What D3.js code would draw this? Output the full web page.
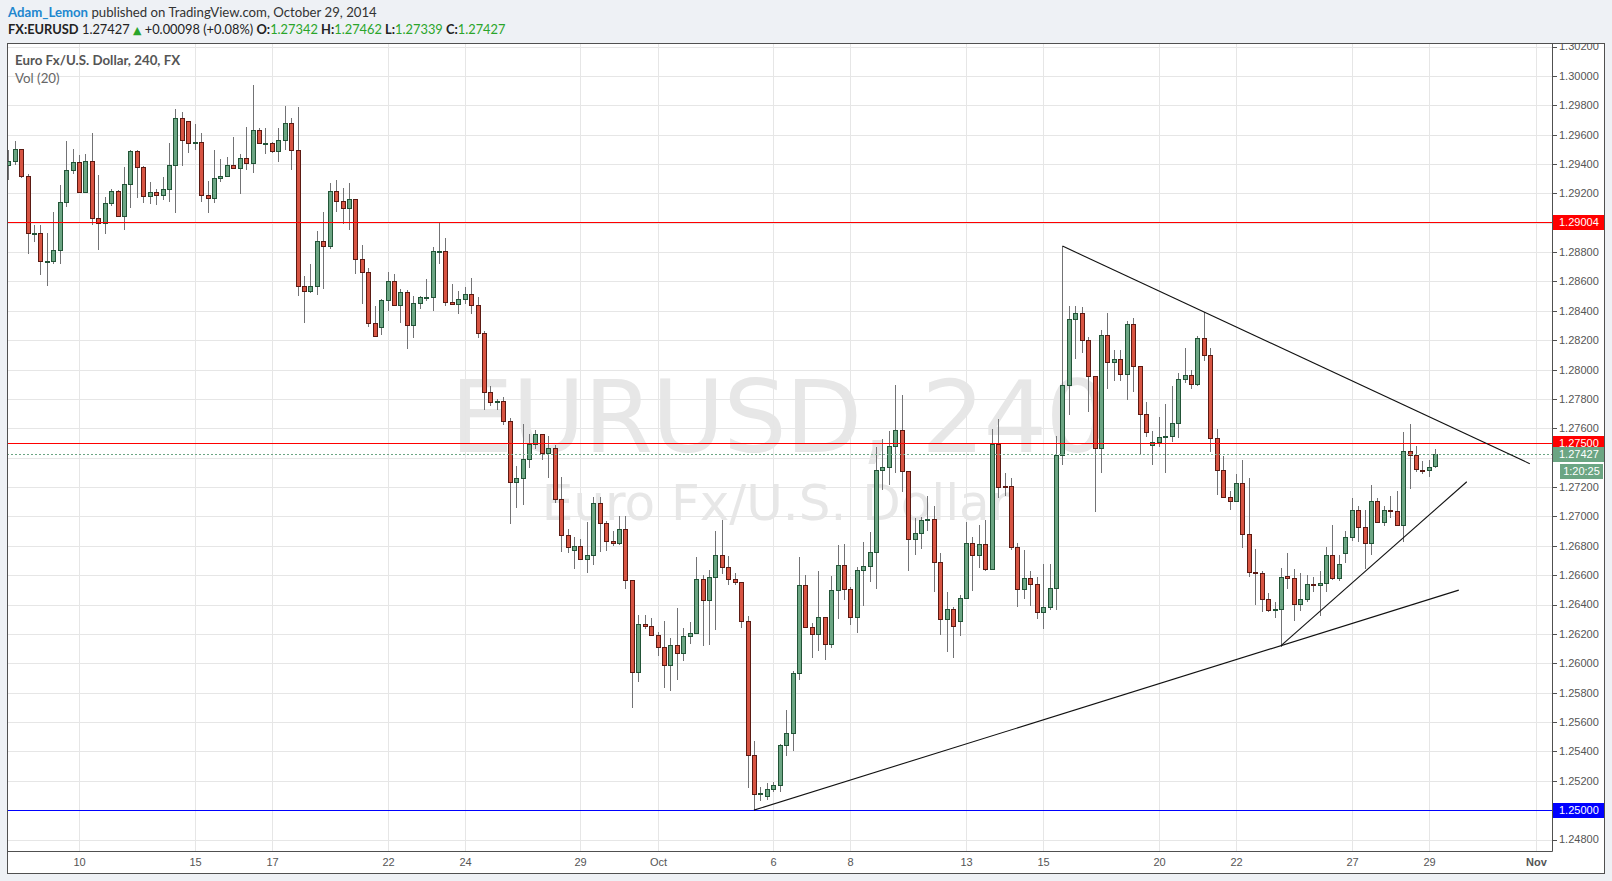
<!DOCTYPE html>
<html><head><meta charset="utf-8">
<script src="https://cdn.jsdelivr.net/npm/d3@7"></script>
<style>
html,body{margin:0;padding:0;background:#eef1f5;}
svg{display:block;}
</style></head><body>
<svg id="chart" width="1612" height="881"></svg>
<script>
// ---- DATA (EURUSD 240 min, Sep 8 - Oct 29 2014) ----
const opens = [1.29390,1.29417,1.29499,1.29320,1.28928,1.28928,1.28738,1.28738,1.28813,1.29139,
1.29356,1.29411,1.29207,1.29417,1.29030,1.28996,1.29132,1.29213,1.29044,1.29261,
1.29485,1.29377,1.29180,1.29207,1.29186,1.29227,1.29390,1.29716,1.29696,1.29540,
1.29553,1.29186,1.29166,1.29302,1.29315,1.29390,1.29370,1.29438,1.29404,1.29628,
1.29540,1.29540,1.29485,1.29560,1.29682,1.29492,1.28568,1.28534,1.28566,1.28875,
1.28841,1.29216,1.29148,1.29100,1.29162,1.28753,1.28664,1.28316,1.28289,1.28473,
1.28603,1.28439,1.28528,1.28303,1.28453,1.28494,1.28494,1.28807,1.28807,1.28459,
1.28446,1.28480,1.28514,1.28439,1.28248,1.27846,1.27784,1.27784,1.27648,1.27232,
1.27259,1.27389,1.27493,1.27559,1.27430,1.27464,1.27116,1.26871,1.26769,1.26797,
1.26708,1.26735,1.27089,1.26953,1.26831,1.26817,1.26912,1.26565,1.25938,1.26265,
1.26252,1.26190,1.26109,1.25986,1.26122,1.26068,1.26184,1.26204,1.26572,1.26429,
1.26585,1.26735,1.26653,1.26572,1.26551,1.26286,1.25373,1.25114,1.25099,1.25142,
1.25169,1.25441,1.25523,1.25932,1.26531,1.26245,1.26197,1.26314,1.26130,1.26498,
1.26668,1.26504,1.26314,1.26634,1.26661,1.26756,1.27315,1.27335,1.27478,1.27587,
1.27308,1.26845,1.26886,1.26981,1.26981,1.26688,1.26300,1.26368,1.26287,1.26443,
1.26818,1.26736,1.26811,1.26641,1.27494,1.27204,1.27204,1.26791,1.26504,1.26579,
1.26539,1.26348,1.26382,1.26513,1.27417,1.27896,1.28347,1.28388,1.28204,1.27958,
1.27465,1.28238,1.28053,1.28074,1.27971,1.28313,1.28026,1.27698,1.27486,1.27506,
1.27540,1.27547,1.27633,1.27937,1.27964,1.27903,1.28217,1.28101,1.27533,1.27313,
1.27130,1.27103,1.27226,1.26877,1.26624,1.26617,1.26439,1.26364,1.26371,1.26593,
1.26580,1.26403,1.26437,1.26539,1.26532,1.26546,1.26736,1.26580,1.26750,1.26859,
1.27042,1.26927,1.26818,1.27104,1.26961,1.27042,1.27036,1.26940,1.27444,1.27417,
1.27317,1.27315,1.27342];
const highs = [1.29494,1.29556,1.29499,1.29331,1.28985,1.28985,1.28928,1.29073,1.29256,1.29556,
1.29499,1.29460,1.29467,1.29610,1.29324,1.29175,1.29229,1.29223,1.29377,1.29494,
1.29494,1.29383,1.29277,1.29227,1.29309,1.29542,1.29773,1.29757,1.29696,1.29671,
1.29610,1.29284,1.29494,1.29433,1.29447,1.29583,1.29467,1.29651,1.29938,1.29642,
1.29642,1.29549,1.29644,1.29793,1.29710,1.29787,1.28638,1.28721,1.28946,1.29073,
1.29273,1.29294,1.29237,1.29273,1.29162,1.28850,1.28694,1.28434,1.28480,1.28664,
1.28650,1.28550,1.28544,1.28498,1.28500,1.28619,1.28835,1.29005,1.28896,1.28584,
1.28534,1.28562,1.28625,1.28496,1.28262,1.27887,1.27798,1.27812,1.27668,1.27343,
1.27628,1.27562,1.27587,1.27559,1.27546,1.27487,1.27269,1.26912,1.26860,1.26844,
1.26962,1.27130,1.27130,1.26967,1.26899,1.27001,1.27001,1.26565,1.26327,1.26327,
1.26306,1.26213,1.26288,1.26172,1.26374,1.26238,1.26279,1.26722,1.26599,1.26633,
1.26899,1.26974,1.26728,1.26613,1.26551,1.26320,1.25469,1.25155,1.25183,1.25189,
1.25448,1.25680,1.25945,1.26722,1.26599,1.26272,1.26626,1.26314,1.26595,1.26806,
1.26813,1.26518,1.26654,1.26827,1.26895,1.27474,1.27526,1.27580,1.27894,1.27826,
1.27308,1.26990,1.26995,1.27138,1.27070,1.26750,1.26484,1.26384,1.26463,1.26961,
1.26859,1.26940,1.26977,1.27594,1.27662,1.27294,1.27260,1.26818,1.26772,1.26627,
1.26586,1.26675,1.26675,1.27549,1.28841,1.28436,1.28436,1.28429,1.28224,1.27958,
1.28272,1.28382,1.28135,1.28135,1.28334,1.28354,1.28026,1.27780,1.27581,1.27677,
1.27766,1.27890,1.27978,1.28149,1.27999,1.28231,1.28395,1.28149,1.27595,1.27410,
1.27171,1.27287,1.27383,1.27260,1.26781,1.26631,1.26480,1.26418,1.26651,1.26750,
1.26641,1.26614,1.26602,1.26586,1.26627,1.26791,1.26940,1.26736,1.26899,1.27124,
1.27070,1.27042,1.27212,1.27124,1.27070,1.27138,1.27172,1.27573,1.27628,1.27478,
1.27376,1.27383,1.27462];
const lows = [1.29300,1.29399,1.29313,1.28797,1.28878,1.28654,1.28579,1.28729,1.28724,1.29116,
1.29336,1.29207,1.29207,1.28989,1.28824,1.28933,1.29121,1.29044,1.28960,1.29105,
1.29177,1.29139,1.29136,1.29130,1.29164,1.29150,1.29075,1.29395,1.29483,1.29503,
1.29146,1.29071,1.29141,1.29286,1.29315,1.29370,1.29204,1.29368,1.29343,1.29540,
1.29478,1.29481,1.29417,1.29503,1.29363,1.28507,1.28325,1.28525,1.28516,1.28553,
1.28825,1.29078,1.28998,1.28955,1.28655,1.28450,1.28294,1.28228,1.28239,1.28409,
1.28439,1.28321,1.28150,1.28225,1.28419,1.28473,1.28409,1.28723,1.28439,1.28446,
1.28382,1.28453,1.28382,1.28219,1.27730,1.27762,1.27730,1.27628,1.26952,1.27062,
1.27082,1.27334,1.27464,1.27389,1.27266,1.27096,1.26767,1.26756,1.26651,1.26708,
1.26624,1.26678,1.26767,1.26769,1.26803,1.26810,1.26515,1.25700,1.25882,1.26238,
1.26190,1.26059,1.25841,1.25820,1.25891,1.26020,1.26136,1.26204,1.26122,1.26134,
1.26236,1.26613,1.26538,1.26538,1.26249,1.25160,1.25000,1.25067,1.25078,1.25133,
1.25128,1.25373,1.25412,1.25891,1.26245,1.26041,1.26090,1.26028,1.26110,1.26305,
1.26441,1.26266,1.26212,1.26396,1.26561,1.26513,1.27185,1.27219,1.27301,1.27176,
1.26632,1.26743,1.26784,1.26909,1.26491,1.26198,1.26082,1.26041,1.26191,1.26443,
1.26498,1.26654,1.26634,1.26641,1.27131,1.27145,1.26777,1.26389,1.26443,1.26396,
1.26305,1.26239,1.26368,1.26368,1.27360,1.27698,1.28076,1.28122,1.27718,1.27039,
1.27305,1.27875,1.27930,1.27930,1.27800,1.27855,1.27424,1.27547,1.27356,1.27479,
1.27301,1.27513,1.27540,1.27916,1.27875,1.27896,1.28067,1.27444,1.27150,1.27130,
1.27048,1.27103,1.26795,1.26596,1.26405,1.26357,1.26357,1.26316,1.26120,1.26512,
1.26292,1.26360,1.26421,1.26489,1.26332,1.26490,1.26575,1.26570,1.26693,1.26840,
1.26831,1.26648,1.26743,1.26961,1.26940,1.26995,1.26940,1.26831,1.27192,1.27308,
1.27294,1.27274,1.27339];
const closes = [1.29417,1.29499,1.29320,1.28928,1.28930,1.28738,1.28740,1.28813,1.29139,1.29356,
1.29411,1.29207,1.29417,1.29030,1.28996,1.29132,1.29213,1.29044,1.29261,1.29485,
1.29377,1.29180,1.29207,1.29186,1.29227,1.29390,1.29716,1.29560,1.29540,1.29553,
1.29186,1.29166,1.29302,1.29315,1.29390,1.29370,1.29438,1.29404,1.29628,1.29540,
1.29542,1.29485,1.29560,1.29682,1.29492,1.28568,1.28534,1.28566,1.28875,1.28841,
1.29216,1.29148,1.29100,1.29162,1.28753,1.28664,1.28316,1.28228,1.28473,1.28603,
1.28439,1.28528,1.28303,1.28453,1.28494,1.28496,1.28807,1.28809,1.28459,1.28446,
1.28480,1.28514,1.28439,1.28248,1.27846,1.27778,1.27786,1.27648,1.27232,1.27259,
1.27389,1.27493,1.27559,1.27430,1.27464,1.27116,1.26871,1.26790,1.26797,1.26708,
1.26735,1.27089,1.26953,1.26831,1.26817,1.26912,1.26565,1.25938,1.26265,1.26252,
1.26190,1.26109,1.25986,1.26122,1.26068,1.26184,1.26204,1.26572,1.26429,1.26585,
1.26735,1.26653,1.26572,1.26551,1.26286,1.25373,1.25108,1.25116,1.25142,1.25169,
1.25441,1.25523,1.25932,1.26531,1.26245,1.26197,1.26313,1.26130,1.26498,1.26668,
1.26504,1.26314,1.26634,1.26661,1.26756,1.27315,1.27335,1.27478,1.27587,1.27308,
1.26845,1.26886,1.26974,1.26983,1.26688,1.26300,1.26368,1.26253,1.26443,1.26818,
1.26736,1.26811,1.26641,1.27494,1.27199,1.27202,1.26791,1.26504,1.26579,1.26539,
1.26348,1.26382,1.26513,1.27417,1.27896,1.28347,1.28388,1.28204,1.27958,1.27465,
1.28238,1.28053,1.28074,1.27971,1.28313,1.28026,1.27698,1.27574,1.27506,1.27540,
1.27547,1.27633,1.27937,1.27964,1.27903,1.28217,1.28101,1.27533,1.27313,1.27130,
1.27103,1.27226,1.26877,1.26624,1.26617,1.26439,1.26364,1.26371,1.26590,1.26580,
1.26403,1.26437,1.26539,1.26537,1.26546,1.26736,1.26580,1.26675,1.26859,1.27042,
1.26927,1.26818,1.27104,1.26961,1.27042,1.27036,1.26940,1.27444,1.27417,1.27321,
1.27315,1.27335,1.27427];

// time axis: candle index of each day label
const dayTickIndex  = [11, 29, 41, 59, 71, 89, 101, 119, 131, 149, 161, 179, 191, 209, 221, 237.6];
const dayTickLabels = ["10","15","17","22","24","29","Oct","6","8","13","15","20","22","27","29","Nov"];
// price axis
const priceTickValues = [1.248,1.250,1.252,1.254,1.256,1.258,1.260,1.262,1.264,1.266,1.268,1.270,1.272,1.274,
  1.276,1.278,1.280,1.282,1.284,1.286,1.288,1.290,1.292,1.294,1.296,1.298,1.300,1.302];
// horizontal levels drawn by the author
const levelValues = [1.29004, 1.27500, 1.25000];
const levelColors = ["#ff0000", "#ff0000", "#0000ff"];
// trend lines: start/end (candle index, price)
const trendStartIdx   = [164, 116, 198];
const trendStartPrice = [1.28841, 1.25000, 1.26120];
const trendEndIdx     = [236.7, 225.65, 226.9];
const trendEndPrice   = [1.27359, 1.26498, 1.27236];
const lastPrice = 1.27427;
const countdown = "1:20:25";

// ---- LAYOUT ----
const frame = {l: 7, t: 43, r: 1605, b: 874};
const plot = {l: 7, t: 43, r: 1552, b: 851};
const svg = d3.select("#chart");

const x = d3.scaleLinear().domain([0, opens.length - 1]).range([8.3, 1435.3]);
const y = d3.scaleLinear().domain([1.248, 1.302]).range([839.5, 46.5]);
const fmt = d3.format(".5f");

const defs = svg.append("defs");
defs.append("clipPath").attr("id", "plotClip").append("rect")
  .attr("x", plot.l).attr("y", plot.t).attr("width", plot.r - plot.l).attr("height", plot.b - plot.t);
defs.append("clipPath").attr("id", "axisClip").append("rect")
  .attr("x", plot.r).attr("y", frame.t).attr("width", frame.r - plot.r).attr("height", plot.b - frame.t);

svg.append("rect").attr("x", frame.l).attr("y", frame.t).attr("width", frame.r - frame.l).attr("height", frame.b - frame.t)
  .attr("fill", "#ffffff");

// ---- header ----
const hdrFont = "Lato, 'Open Sans', sans-serif";
const h1 = svg.append("text").attr("x", 8).attr("y", 17).attr("font-family", hdrFont).attr("font-size", 13.2).attr("fill", "#333");
h1.append("tspan").attr("fill", "#2187cf").attr("font-weight", "bold").text("Adam_Lemon");
h1.append("tspan").text(" published on TradingView.com, October 29, 2014");

const green = "#2aa52a";
const h2 = svg.append("text").attr("x", 8).attr("y", 34).attr("font-family", hdrFont).attr("font-size", 12.85).attr("fill", "#222");
h2.append("tspan").attr("font-weight", "bold").text("FX:EURUSD");
h2.append("tspan").text(" 1.27427 ");
h2.append("tspan").attr("fill", green).attr("font-family", "DejaVu Sans").attr("font-size", 11).text("▲");
h2.append("tspan").text(" +0.00098 (+0.08%) ");
[["O:", "1.27342"], ["H:", "1.27462"], ["L:", "1.27339"], ["C:", "1.27427"]].forEach((p, k) => {
  h2.append("tspan").attr("font-weight", "bold").text((k ? " " : "") + p[0]);
  h2.append("tspan").attr("fill", green).text(p[1]);
});

// ---- watermark ----
svg.append("text").attr("x", 779).attr("y", 452).attr("text-anchor", "middle")
  .attr("font-family", "'DejaVu Sans', sans-serif").attr("font-size", 100).attr("letter-spacing", -1.5)
  .attr("fill", "#e7e7e7").attr("clip-path", "url(#plotClip)").text("EURUSD, 240");
svg.append("text").attr("x", 776).attr("y", 520).attr("text-anchor", "middle")
  .attr("font-family", "'DejaVu Sans', sans-serif").attr("font-size", 50).attr("fill", "#e7e7e7")
  .text("Euro Fx/U.S. Dollar");

// ---- grid ----
const grid = svg.append("g").attr("clip-path", "url(#plotClip)").attr("stroke", "#e6e6e6").attr("stroke-width", 1);
grid.selectAll("line.h").data(priceTickValues).join("line")
  .attr("x1", plot.l).attr("x2", plot.r)
  .attr("y1", d => Math.round(y(d)) + 0.5).attr("y2", d => Math.round(y(d)) + 0.5);
grid.selectAll("line.v").data(dayTickIndex).join("line")
  .attr("y1", plot.t).attr("y2", plot.b)
  .attr("x1", d => Math.round(x(d)) + 0.5).attr("x2", d => Math.round(x(d)) + 0.5);

// legend inside plot
svg.append("text").attr("x", 15).attr("y", 65).attr("font-family", hdrFont).attr("font-size", 13.3)
  .attr("font-weight", "bold").attr("fill", "#555").text("Euro Fx/U.S. Dollar, 240, FX");
svg.append("text").attr("x", 15).attr("y", 83).attr("font-family", hdrFont).attr("font-size", 13.3)
  .attr("fill", "#666").text("Vol (20)");

// ---- candles ----
const idx = d3.range(opens.length);
const cg = svg.append("g").attr("clip-path", "url(#plotClip)");
cg.selectAll("line.wick").data(idx).join("line")
  .attr("x1", i => Math.round(x(i)) + 0.5).attr("x2", i => Math.round(x(i)) + 0.5)
  .attr("y1", i => Math.round(y(highs[i]))).attr("y2", i => Math.round(y(lows[i])) + 1)
  .attr("stroke", "#737375").attr("stroke-width", 1);
cg.selectAll("rect.body").data(idx).join("rect")
  .attr("x", i => Math.round(x(i)) - 2 + 0.5)
  .attr("y", i => Math.round(y(Math.max(opens[i], closes[i]))) + 0.5)
  .attr("width", 4)
  .attr("height", i => Math.max(1, Math.round(y(Math.min(opens[i], closes[i]))) - Math.round(y(Math.max(opens[i], closes[i])))))
  .attr("fill", i => closes[i] >= opens[i] ? "#6ba583" : "#d75442")
  .attr("stroke", i => closes[i] >= opens[i] ? "#225437" : "#5b1a13")
  .attr("stroke-width", 1);

// ---- author drawings ----
const dg = svg.append("g").attr("clip-path", "url(#plotClip)");
dg.selectAll("line.level").data(levelValues).join("line")
  .attr("x1", plot.l).attr("x2", plot.r)
  .attr("y1", d => Math.round(y(d)) + 0.5).attr("y2", d => Math.round(y(d)) + 0.5)
  .attr("stroke", (d, k) => levelColors[k]).attr("stroke-width", 1);
dg.append("line").attr("x1", plot.l).attr("x2", plot.r)
  .attr("y1", Math.round(y(lastPrice)) + 0.5).attr("y2", Math.round(y(lastPrice)) + 0.5)
  .attr("stroke", "#6ba583").attr("stroke-dasharray", "2,2");
dg.selectAll("line.trend").data(trendStartIdx).join("line")
  .attr("x1", (d, k) => x(trendStartIdx[k])).attr("y1", (d, k) => y(trendStartPrice[k]))
  .attr("x2", (d, k) => x(trendEndIdx[k])).attr("y2", (d, k) => y(trendEndPrice[k]))
  .attr("stroke", "#111").attr("stroke-width", 1.1);

// ---- axes frame ----
const axCol = "#505050";
svg.append("line").attr("x1", plot.r + 0.5).attr("x2", plot.r + 0.5).attr("y1", frame.t).attr("y2", plot.b + 0.5).attr("stroke", axCol);
svg.append("line").attr("x1", frame.l).attr("x2", plot.r + 0.5).attr("y1", plot.b + 0.5).attr("y2", plot.b + 0.5).attr("stroke", axCol);
svg.append("rect").attr("x", frame.l + 0.5).attr("y", frame.t + 0.5).attr("width", frame.r - frame.l - 1).attr("height", frame.b - frame.t - 1)
  .attr("fill", "none").attr("stroke", axCol);

// price axis
const axFont = "'Liberation Sans', Arial, sans-serif";
const pa = svg.append("g").attr("clip-path", "url(#axisClip)");
pa.selectAll("line.tick").data(priceTickValues).join("line")
  .attr("x1", plot.r).attr("x2", plot.r + 5)
  .attr("y1", d => Math.round(y(d)) + 0.5).attr("y2", d => Math.round(y(d)) + 0.5)
  .attr("stroke", axCol);
pa.selectAll("text.tick").data(priceTickValues).join("text")
  .attr("x", plot.r + 7).attr("y", d => y(d)).attr("dy", "0.36em")
  .attr("font-family", axFont).attr("font-size", 11).attr("fill", "#555")
  .text(d => fmt(d));

// level boxes
const boxG = svg.append("g");
function priceBox(v, color, label) {
  const cy = Math.round(y(v));
  boxG.append("rect").attr("x", plot.r + 1).attr("y", cy - 7).attr("width", 51).attr("height", 15).attr("fill", color);
  boxG.append("text").attr("x", plot.r + 7).attr("y", cy + 0.5).attr("dy", "0.36em")
    .attr("font-family", axFont).attr("font-size", 11).attr("fill", "#fff").text(label);
}
levelValues.forEach((v, k) => priceBox(v, levelColors[k], fmt(v)));
priceBox(lastPrice, "#6ba583", fmt(lastPrice));
{
  const cy = Math.round(y(lastPrice)) + 17;
  boxG.append("rect").attr("x", plot.r + 8).attr("y", cy - 7).attr("width", 43).attr("height", 15).attr("fill", "#6ba583");
  boxG.append("text").attr("x", plot.r + 29.5).attr("y", cy + 0.5).attr("dy", "0.36em").attr("text-anchor", "middle")
    .attr("font-family", axFont).attr("font-size", 11).attr("fill", "#fff").text(countdown);
}

// time axis
svg.append("g").selectAll("text").data(dayTickIndex).join("text")
  .attr("x", d => Math.round(x(d)) + 0.5).attr("y", 866).attr("text-anchor", "middle")
  .attr("font-family", axFont).attr("font-size", 11).attr("fill", "#555")
  .attr("font-weight", (d, k) => dayTickLabels[k] === "Nov" ? "bold" : "normal")
  .text((d, k) => dayTickLabels[k]);
</script>
</body></html>
